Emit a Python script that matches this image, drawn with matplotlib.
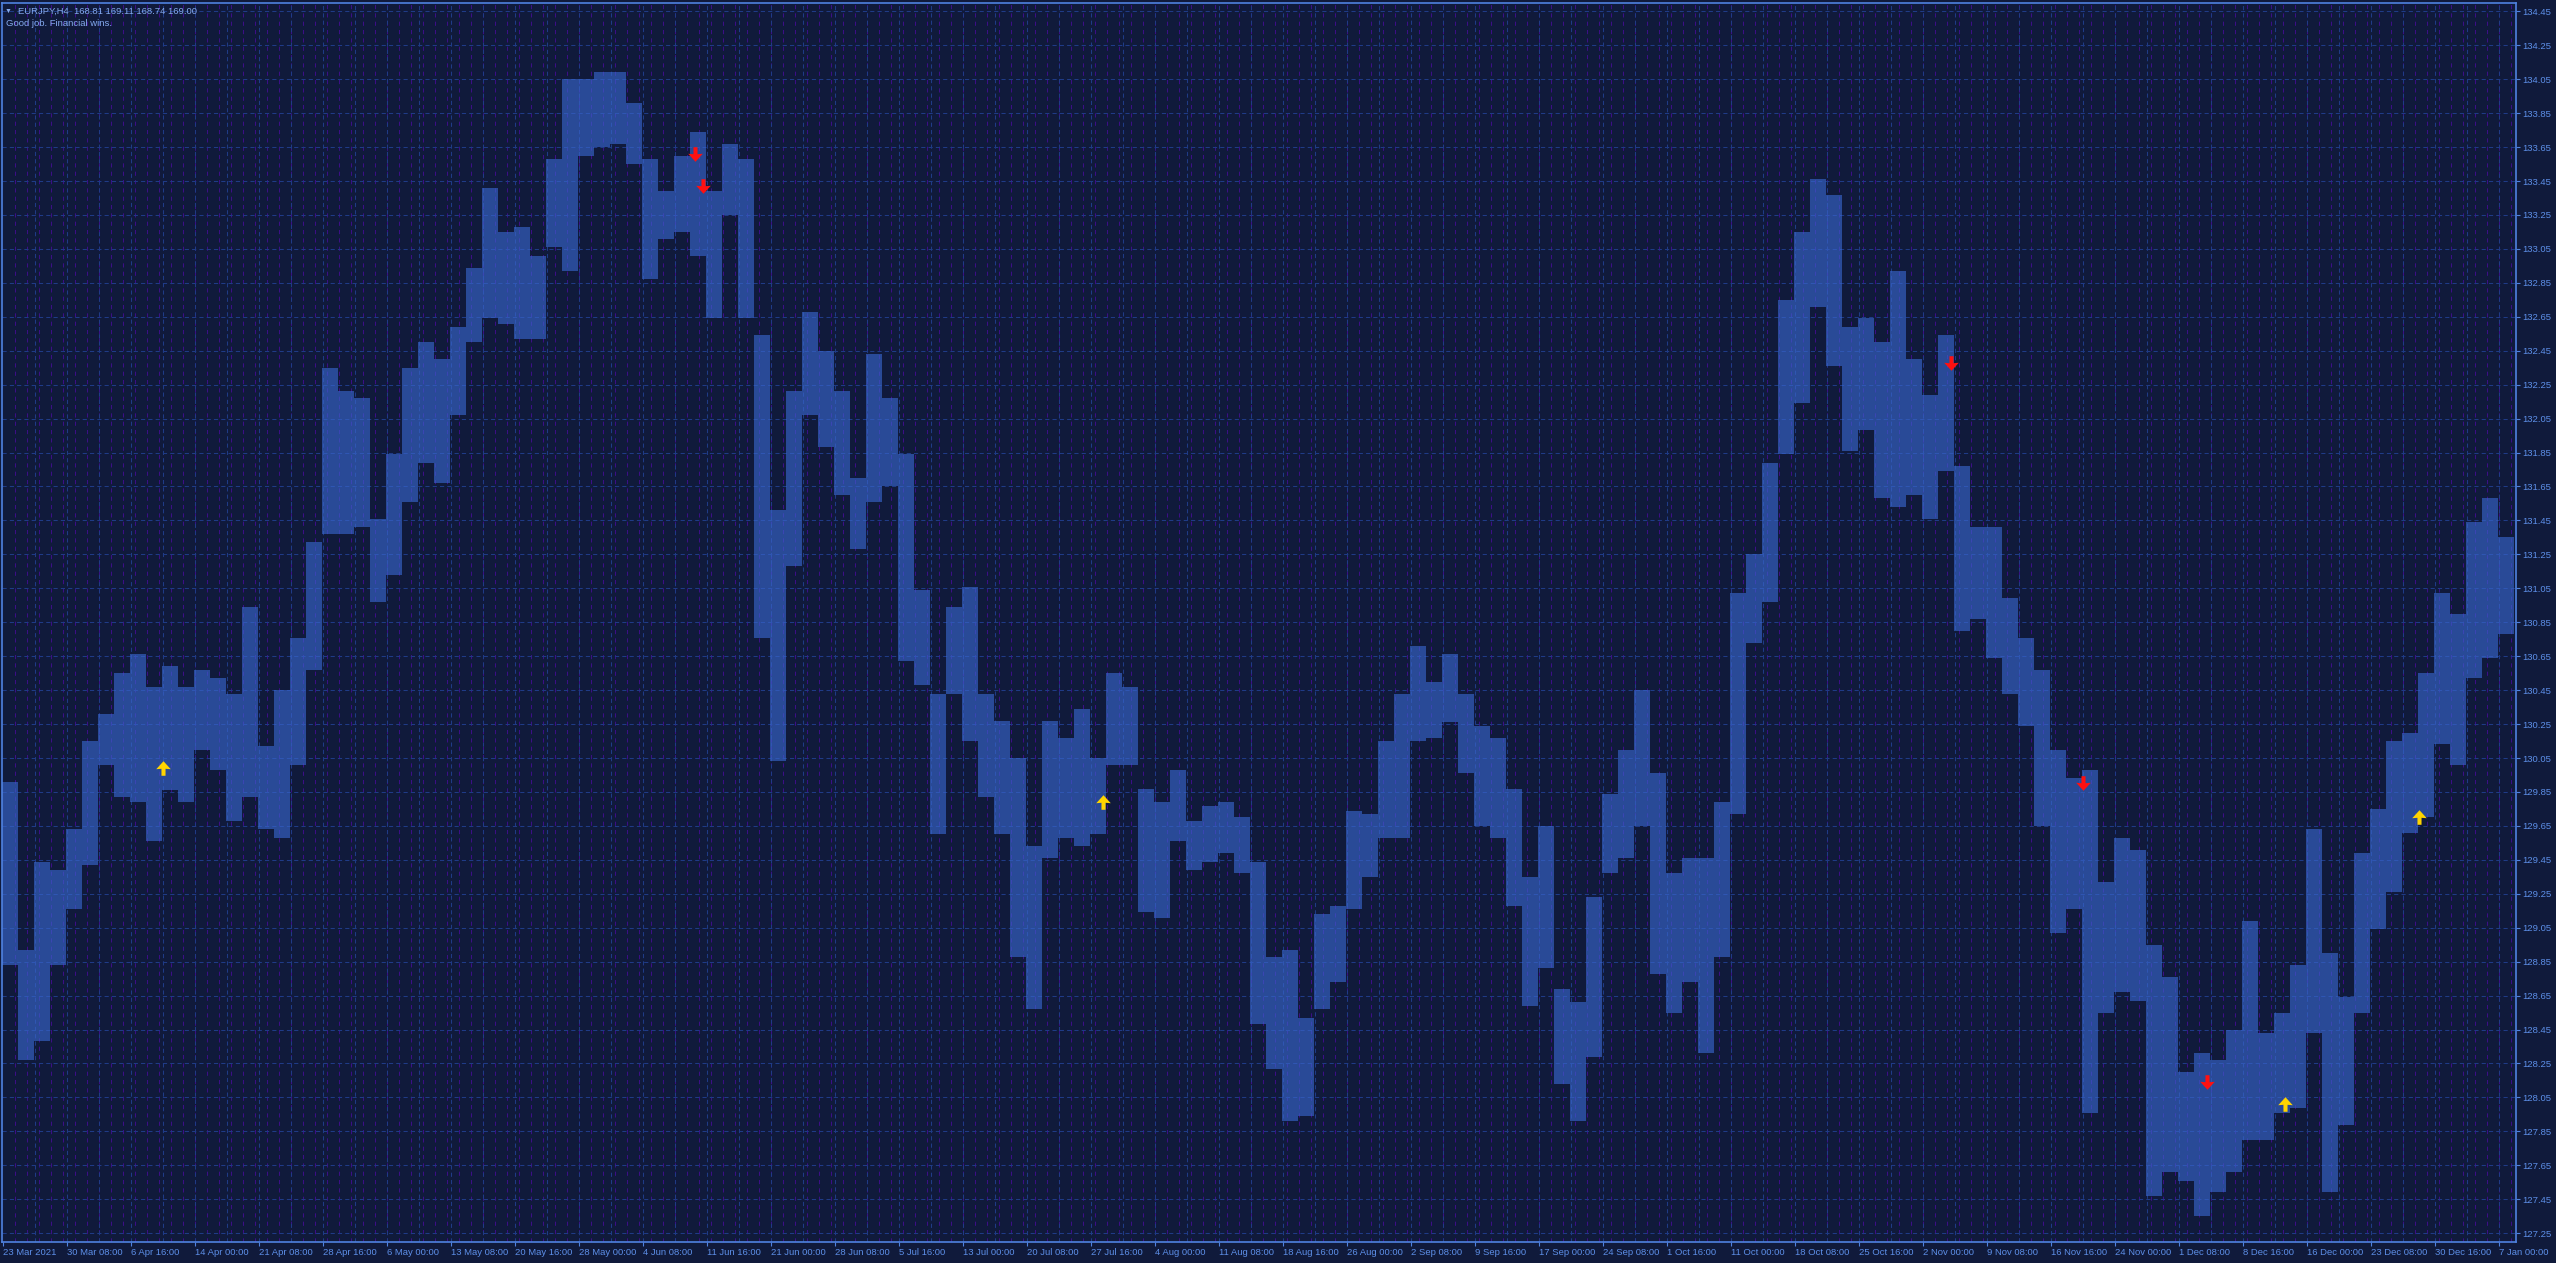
import numpy as np
import matplotlib
matplotlib.use('Agg')
import matplotlib.pyplot as plt
from matplotlib.path import Path

# EURJPY H4, one sample = 8 bars (high / low of the group)
highs = [129.91, 128.92, 129.44, 129.39, 129.63, 130.15, 130.31, 130.55, 130.66, 130.47,
         130.59, 130.47, 130.57, 130.52, 130.43, 130.94, 130.12, 130.45, 130.76, 131.32,
         132.35, 132.21, 132.17, 131.46, 131.84, 132.35, 132.50, 132.40, 132.59, 132.94,
         133.41, 133.15, 133.18, 133.01, 133.58, 134.05, 134.05, 134.09, 134.09, 133.91,
         133.58, 133.39, 133.60, 133.74, 133.39, 133.67, 133.58, 132.54, 131.51, 132.21,
         132.68, 132.45, 132.21, 131.70, 132.43, 132.17, 131.84, 131.04, 130.43, 130.94,
         131.06, 130.43, 130.27, 130.05, 129.53, 130.27, 130.17, 130.34, 130.05, 130.55,
         130.47, 129.87, 129.79, 129.98, 129.68, 129.77, 129.79, 129.70, 129.44, 128.88,
         128.92, 128.52, 129.13, 129.18, 129.74, 129.72, 130.15, 130.43, 130.71, 130.50,
         130.66, 130.43, 130.24, 130.17, 129.87, 129.35, 129.65, 128.69, 128.61, 129.23,
         129.84, 130.10, 130.45, 129.96, 129.37, 129.46, 129.46, 129.79, 131.02, 131.25,
         131.79, 132.75, 133.15, 133.46, 133.37, 132.59, 132.64, 132.50, 132.92, 132.40,
         132.19, 132.54, 131.77, 131.41, 131.41, 130.99, 130.76, 130.57, 130.10, 129.93,
         129.98, 129.32, 129.58, 129.51, 128.95, 128.76, 128.20, 128.31, 128.27, 128.45,
         129.09, 128.43, 128.55, 128.83, 129.63, 128.90, 128.64, 129.49, 129.75, 130.15,
         130.20, 130.55, 131.02, 130.90, 131.44, 131.58, 131.35]
lows = [128.83, 128.27, 128.38, 128.83, 129.16, 129.42, 130.01, 129.82, 129.79, 129.56,
        129.86, 129.79, 130.10, 129.98, 129.68, 129.82, 129.63, 129.58, 130.01, 130.57,
        131.37, 131.37, 131.41, 130.97, 131.13, 131.56, 131.79, 131.67, 132.07, 132.50,
        132.64, 132.61, 132.52, 132.52, 133.06, 132.92, 133.60, 133.65, 133.67, 133.55,
        132.87, 133.11, 133.15, 133.01, 132.64, 133.25, 132.64, 130.76, 130.03, 131.18,
        132.07, 131.88, 131.60, 131.28, 131.56, 131.65, 130.62, 130.48, 129.60, 130.43,
        130.15, 129.82, 129.60, 128.88, 128.57, 129.46, 129.58, 129.53, 129.60, 130.01,
        130.01, 129.14, 129.11, 129.56, 129.39, 129.44, 129.49, 129.37, 128.48, 128.22,
        127.91, 127.94, 128.57, 128.73, 129.16, 129.35, 129.58, 129.58, 130.15, 130.17,
        130.26, 129.96, 129.65, 129.58, 129.18, 128.59, 128.81, 128.13, 127.91, 128.29,
        129.37, 129.46, 129.65, 128.78, 128.55, 128.73, 128.31, 128.88, 129.72, 130.73,
        130.97, 131.84, 132.14, 132.71, 132.36, 131.86, 131.98, 131.58, 131.53, 131.60,
        131.46, 131.74, 130.80, 130.87, 130.64, 130.43, 130.24, 129.65, 129.02, 129.16,
        127.96, 128.55, 128.67, 128.62, 127.47, 127.61, 127.56, 127.35, 127.49, 127.61,
        127.80, 127.80, 127.96, 127.99, 128.43, 127.49, 127.89, 128.55, 129.04, 129.26,
        129.61, 129.70, 130.13, 130.01, 130.52, 130.64, 130.78]
bars_per_sample = 8

date_labels = ['23 Mar 2021', '30 Mar 08:00', '6 Apr 16:00', '14 Apr 00:00', '21 Apr 08:00',
               '28 Apr 16:00', '6 May 00:00', '13 May 08:00', '20 May 16:00', '28 May 00:00',
               '4 Jun 08:00', '11 Jun 16:00', '21 Jun 00:00', '28 Jun 08:00', '5 Jul 16:00',
               '13 Jul 00:00', '20 Jul 08:00', '27 Jul 16:00', '4 Aug 00:00', '11 Aug 08:00',
               '18 Aug 16:00', '26 Aug 00:00', '2 Sep 08:00', '9 Sep 16:00', '17 Sep 00:00',
               '24 Sep 08:00', '1 Oct 16:00', '11 Oct 00:00', '18 Oct 08:00', '25 Oct 16:00',
               '2 Nov 00:00', '9 Nov 08:00', '16 Nov 16:00', '24 Nov 00:00', '1 Dec 08:00',
               '8 Dec 16:00', '16 Dec 00:00', '23 Dec 08:00', '30 Dec 16:00', '7 Jan 00:00']
label_step = 32   # bars between date labels

# signal arrows (bar index, price)
sell_bar = [346, 350, 974, 1040, 1102]
sell_price = [133.61, 133.42, 132.38, 129.90, 128.14]
buy_bar = [80, 550, 1141, 1208]
buy_price = [129.99, 129.79, 128.01, 129.70]

bg = '#101a3b'
fg = '#5d8fe8'

W, H = 2556, 1263
fig = plt.figure(figsize=(W / 100, H / 100), dpi=100, facecolor=bg)
ax = fig.add_axes([2 / W, 21 / H, 2514 / W, 1239.5 / H], facecolor=bg)

n = len(highs)
nbars = 1257
ax.set_xlim(-0.5, nbars - 0.5)
ax.set_ylim(127.198, 134.502)

# grid: purple day separators, blue dashed grid
for b in range(6, nbars, 6):
    ax.axvline(b, color='#3c0f86', lw=0.75, ls=(0, (4, 4)), zorder=1)
for b in range(16, nbars, 16):
    ax.axvline(b, color='#1f3b86', lw=0.75, ls=(0, (4, 3)), zorder=1.5)
yt = np.round(np.arange(127.25, 134.46, 0.2), 2)
for v in yt:
    ax.axhline(v, color='#1f3b86', lw=0.75, ls=(0, (4, 3)), zorder=1.5)

# price bars (1px bars with 1px gaps blend to about half strength)
x = np.arange(n) * bars_per_sample + (bars_per_sample - 1) / 2
hi = np.array(highs)
lo = np.array(lows)
ax.bar(x, hi - lo, bottom=lo, width=bars_per_sample, color='#3a68d0', alpha=0.62,
       lw=0, zorder=2)

# arrow markers
down = Path([(-0.14, 0.5), (0.14, 0.5), (0.14, 0.02), (0.5, 0.05), (0, -0.5),
             (-0.5, 0.05), (-0.14, 0.02), (-0.14, 0.5)], closed=True)
up = Path([(px, -py) for px, py in down.vertices], closed=True)
ax.scatter(sell_bar, sell_price, marker=down, s=110, color='#ff1010', lw=0, zorder=4)
ax.scatter(buy_bar, buy_price, marker=up, s=110, color='#ffd400', lw=0, zorder=4)

# axes cosmetics
for s in ax.spines.values():
    s.set_color('#4f82e0')
    s.set_linewidth(1.2)
font = ['Liberation Sans', 'DejaVu Sans']
ax.yaxis.tick_right()
ax.set_yticks(yt)
ax.set_yticklabels([f'{v:.2f}' for v in yt], fontsize=6.8, color=fg, family=font)
ax.set_xticks(np.arange(len(date_labels)) * label_step)
ax.set_xticklabels(date_labels, fontsize=6.8, color=fg, family=font, ha='left')
ax.tick_params(axis='both', color='#4f82e0', length=3, width=0.8, pad=1.5)

fig.text(5 / W, 1 - 11.5 / H, '\u25bc', fontsize=5, color='#84a9ee', va='center', family=font)
fig.text(18 / W, 1 - 11 / H, 'EURJPY,H4  168.81 169.11 168.74 169.00', fontsize=6.8,
         color='#84a9ee', va='center', family=font)
fig.text(6 / W, 1 - 24 / H, 'Good job. Financial wins.', fontsize=6.8,
         color='#84a9ee', va='center', family=font)

fig.savefig('out.png', dpi=100, facecolor=bg)
